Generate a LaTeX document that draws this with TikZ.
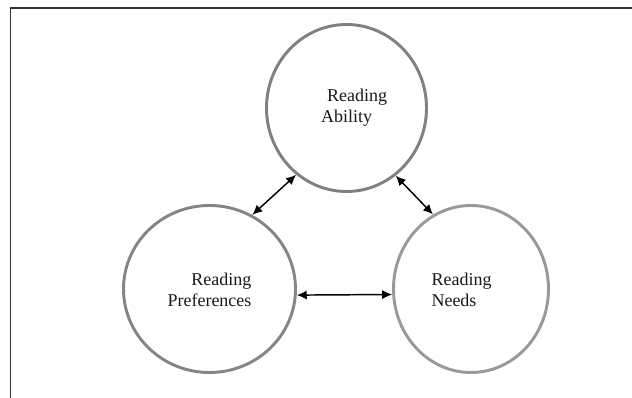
\documentclass[tikz,border=0pt]{standalone}
\usepackage{fontspec}
\setmainfont{Liberation Serif}
\usetikzlibrary{calc,shapes.geometric,arrows.meta}

\tikzset{
  bubble/.style={ellipse, draw=gray!100, line width=2.2pt, minimum height=125.25pt, inner sep=0pt},
  bubbletext/.style={font=\fontsize{13.5pt}{15.5pt}\selectfont, text=black!90, inner sep=0pt},
  link/.style={{Latex[length=7.5pt,width=6.8pt]}-{Latex[length=7.5pt,width=6.8pt]}, line width=1.1pt}
}

\begin{document}
\begin{tikzpicture}[x=0.75pt,y=-0.75pt] % 1 unit = 1px of the reference
\useasboundingbox (0,0) rectangle (632,398);
\draw [line width=1.1pt, black!80] (10.5,398) -- (10.5,8) -- (632,8);
\node [bubble, minimum width=120pt, draw=black!50] (ability) at (346.5,108) {};
                     \node [bubbletext, align=left] (abilitytext) at ($(ability.center)+(7.5,0)$) {\hspace*{4.5pt}Reading\\Ability};
\node [bubble, minimum width=129pt, draw=black!48] (pref) at (209.5,289) {};
                     \node [bubbletext, align=right] (preftext) at ($(pref.center)+(0,1)$) {Reading\\Preferences};
\node [bubble, minimum width=116.25pt, draw=black!40] (needs) at (471,289) {};
                     \node [bubbletext, align=left] (needstext) at ($(needs.center)+(-9.5,1)$) {Reading\\Needs};
\draw [link] (ability.233) -- (pref.60);
\draw [link] (ability.306) -- (needs.117);
\draw [link] (pref.356) -- (needs.184); % arrows between the three circles
\end{tikzpicture}
\end{document}
